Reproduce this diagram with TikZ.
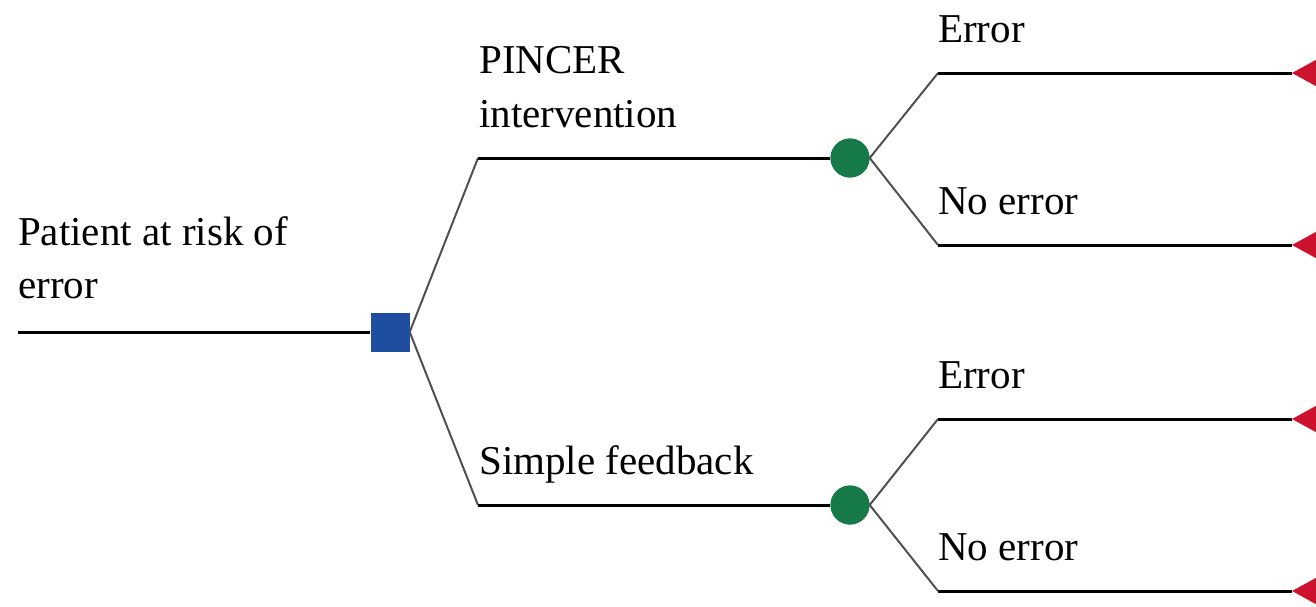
\documentclass[tikz,border=0pt]{standalone}
\usepackage{fontspec}
\setmainfont{Liberation Serif}
\definecolor{sqblue}{RGB}{31,78,160}
\definecolor{chgreen}{RGB}{22,122,72}
\definecolor{termred}{RGB}{204,18,44}
\definecolor{diaggray}{RGB}{80,80,80}
\tikzset{
  hline/.style={line width=3pt, black},
  dline/.style={line width=2pt, diaggray},
  lbl/.style={anchor=base west, inner sep=0pt, font=\fontsize{41}{50}\selectfont},
  decisionbox/.style={fill=sqblue, minimum size=39pt, inner sep=0pt, draw=none},
  chancenode/.style={circle, fill=chgreen, minimum size=39pt, inner sep=0pt, draw=none},
  termtri/.style={fill=termred}
}
\begin{document}
\begin{tikzpicture}[x=1pt, y=-1pt]
\path[use as bounding box, clip] (0,0) rectangle (1316,606);
% nodes
\coordinate (start) at (18,332);
\node[decisionbox] (dec) at (390,332) {};
\coordinate (pA) at (478,158);
\coordinate (pB) at (478,505);
\node[chancenode] (cA) at (850,158) {};
\node[chancenode] (cB) at (850,505) {};
\coordinate (eA1) at (938,73);
\coordinate (eA2) at (938,245);
\coordinate (eB1) at (938,419);
\coordinate (eB2) at (938,591);
\coordinate (tA1) at (1292,73);
\coordinate (tA2) at (1292,245);
\coordinate (tB1) at (1292,419);
\coordinate (tB2) at (1292,591);
% terminal triangles
\foreach \t in {tA1,tA2,tB1,tB2}{
  \fill[termred] (\t) -- ++(42,-23) -- ++(0,46) -- cycle;
}
% connectors
\draw[hline] (start) -- (dec.west);
\draw[dline] (dec.east) -- (pA);
\draw[dline] (dec.east) -- (pB);
\draw[hline] (pA) -- (cA.west);
\draw[hline] (pB) -- (cB.west);
\draw[dline] (cA.east) -- (eA1);
\draw[dline] (cA.east) -- (eA2);
\draw[dline] (cB.east) -- (eB1);
\draw[dline] (cB.east) -- (eB2);
\draw[hline] (eA1) -- (tA1);
\draw[hline] (eA2) -- (tA2);
\draw[hline] (eB1) -- (tB1);
\draw[hline] (eB2) -- (tB2);
% redraw node shapes on top
\node[decisionbox] at (dec) {};
\node[chancenode] at (cA) {};
\node[chancenode] at (cB) {};
% labels
\node[lbl] (l1a) at (18,245) {Patient at risk of};
\node[lbl] (l1b) at (18,298) {error};
\node[lbl] (l2a) at (479,73) {PINCER};
\node[lbl] (l2b) at (479,127) {intervention};
\node[lbl] (l3) at (479,474) {Simple feedback};
\node[lbl] (l4) at (938,42) {Error};
\node[lbl] (l5) at (938,214) {No error};
\node[lbl] (l6) at (938,388) {Error};
\node[lbl] (l7) at (938,560) {No error};
\end{tikzpicture}
\end{document}
